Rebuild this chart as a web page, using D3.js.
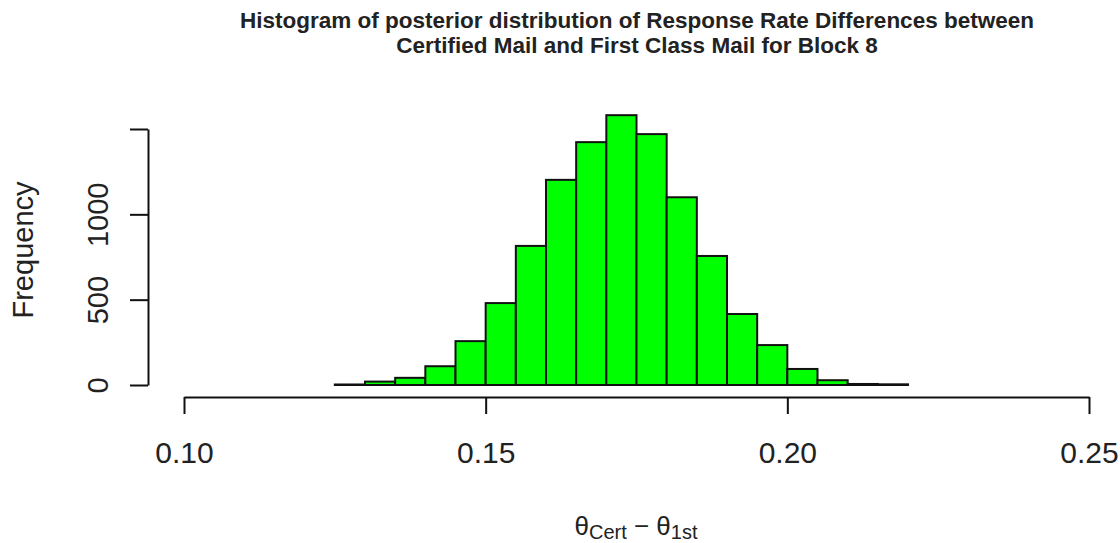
<!DOCTYPE html>
<html>
<head>
<meta charset="utf-8">
<script src="https://cdn.jsdelivr.net/npm/d3@7"></script>
<style>
  body { margin: 0; background: #fff; }
  svg { display: block; font-family: "Liberation Sans", Arial, sans-serif; }
</style>
</head>
<body>
<svg id="chart" width="1120" height="543"></svg>
<script>
// histogram bins (left edges) and counts
var binStarts = [0.125, 0.130, 0.135, 0.140, 0.145, 0.150, 0.155, 0.160, 0.165, 0.170,
                 0.175, 0.180, 0.185, 0.190, 0.195, 0.200, 0.205, 0.210, 0.215];
var binWidth = 0.005;
var counts = [3, 20, 42, 110, 257, 480, 815, 1202, 1423, 1581,
              1470, 1100, 756, 416, 234, 94, 28, 6, 4];
var xTicks = [0.10, 0.15, 0.20, 0.25];
var yTicks = [0, 500, 1000, 1500];
var yTickLabels = ["0", "500", "1000", ""];   // R drops the top label (no room)
var titleLines = ["Histogram of posterior distribution of Response Rate Differences between",
                  "Certified Mail and First Class Mail for Block 8"];

var svg = d3.select("#chart");

var x = d3.scaleLinear().domain([0.10, 0.25]).range([184, 1089]);
var y = d3.scaleLinear().domain([0, 1500]).range([385, 129]);

// bars
svg.append("g")
  .selectAll("rect")
  .data(binStarts)
  .enter().append("rect")
    .attr("x", function(d) { return x(d); })
    .attr("width", function(d) { return x(d + binWidth) - x(d); })
    .attr("y", function(d, i) { return y(counts[i]); })
    .attr("height", function(d, i) { return y(0) - y(counts[i]); })
    .attr("fill", "#00ff00")
    .attr("stroke", "#111")
    .attr("stroke-width", 2);

// x axis (R style, offset below the bars)
var xAxis = svg.append("g")
  .attr("transform", "translate(0,397)")
  .call(d3.axisBottom(x).tickValues(xTicks).tickFormat(d3.format(".2f"))
          .tickSizeOuter(0).tickSizeInner(17).tickPadding(0));
xAxis.select(".domain").attr("stroke", "#111").attr("stroke-width", 2);
xAxis.selectAll(".tick line").attr("stroke", "#111").attr("stroke-width", 2);
xAxis.selectAll(".tick text")
  .attr("y", 66).attr("dy", null)
  .attr("fill", "#222")
  .style("font-size", "30px");

// y axis, labels parallel to the axis
var yAxis = svg.append("g")
  .attr("transform", "translate(148,0)")
  .call(d3.axisLeft(y).tickValues(yTicks)
          .tickFormat(function(d, i) { return yTickLabels[i]; })
          .tickSizeOuter(0).tickSizeInner(18));
yAxis.select(".domain").attr("stroke", "#111").attr("stroke-width", 2);
yAxis.selectAll(".tick line").attr("stroke", "#111").attr("stroke-width", 2);
yAxis.selectAll(".tick text")
  .attr("x", null).attr("dy", null)
  .attr("transform", "translate(-40,0) rotate(-90)")
  .attr("text-anchor", "middle")
  .attr("fill", "#222")
  .style("font-size", "29px");

// axis titles
svg.append("text")
  .attr("transform", "translate(33,250) rotate(-90)")
  .attr("text-anchor", "middle")
  .attr("fill", "#222")
  .style("font-size", "29px")
  .text("Frequency");

var xl = svg.append("text")
  .attr("x", 636).attr("y", 535)
  .attr("text-anchor", "middle")
  .attr("fill", "#222")
  .style("font-size", "26px");
xl.append("tspan").text("\u03b8");
xl.append("tspan").attr("dy", 4).style("font-size", "20px").text("Cert");
xl.append("tspan").attr("dy", -4).text(" \u2212 \u03b8");
xl.append("tspan").attr("dy", 4).style("font-size", "20px").text("1st");

// title
svg.append("g").selectAll("text")
  .data(titleLines)
  .enter().append("text")
    .attr("x", 637)
    .attr("y", function(d, i) { return 28 + i * 25; })
    .attr("text-anchor", "middle")
    .attr("font-weight", "bold")
    .attr("fill", "#222")
    .style("font-size", "22.5px")
    .text(function(d) { return d; });
</script>
</body>
</html>
